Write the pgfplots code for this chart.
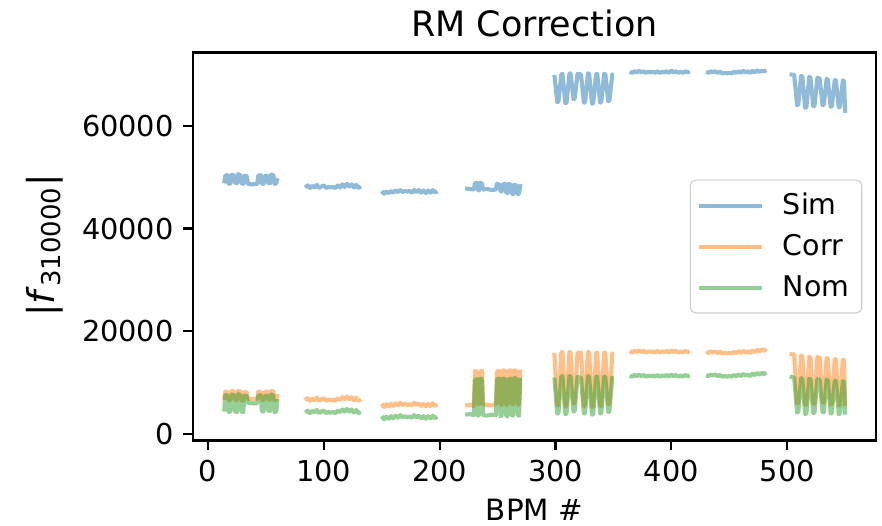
\documentclass[border=0pt]{standalone}
\usepackage{pgfplots}
\usepackage{pgfplotstable}
\pgfplotsset{compat=1.18}
\usepackage{fontspec}
\setmainfont{DejaVu Sans}
\definecolor{tabblue}{HTML}{1F77B4}
\definecolor{taborange}{HTML}{FF7F0E}
\definecolor{tabgreen}{HTML}{2CA02C}

\pgfplotstableread{
x sim corr nom
14 48800 6700 4400
15 50300 8300 7600
17 50400 8200 7500
18 48700 6600 4300
19.5 48800 6700 4500
20.5 50500 8400 7700
22.5 50300 8300 7600
23.5 48900 6700 4400
25 48800 6600 4300
26 50600 8400 7800
28 50400 8300 7600
29 48800 6700 4400
30.5 48700 6500 4300
31.5 50300 8200 7500
33.5 50200 8100 7400
34.5 48700 6900 6100
38 48600 6800 6000
42.5 48700 6900 6000
43.5 50300 8300 7500
45.5 50400 8200 7600
46.5 48800 6700 4500
48 48700 6600 4400
49 50200 8200 7400
51 50300 8300 7500
52 48900 6800 4600
53.5 48800 6700 4500
54.5 50500 8400 7700
56.5 50400 8300 7600
57.5 48700 6600 4300
59 48800 6700 4400
60 49800 7800 6800
61 nan nan nan
84 48000 6600 4200
86 48400 7000 4600
88 47900 6500 4100
90 48300 6900 4500
92 48000 6600 4300
94 48500 7100 4700
96 47900 6500 4100
98 48200 6800 4400
100 48400 7000 4600
102 47900 6500 4100
104 48100 6700 4300
106 48000 6600 4200
108 48100 6700 4300
110 47900 6500 4100
112 48400 7000 4600
114 48000 6700 4300
116 48600 7200 4800
118 48100 6800 4400
120 48700 7300 4900
122 48200 6800 4400
124 48600 7200 4800
126 48000 6600 4200
128 48500 7100 4700
130 47900 6500 4100
132 48200 6800 4300
133 nan nan nan
150 47300 5900 3500
152 46800 5300 2900
154 47200 5800 3400
156 46900 5400 3000
158 47300 5900 3500
160 47000 5500 3100
162 47400 6000 3600
164 47100 5600 3200
166 47500 6100 3700
168 47100 5700 3300
170 47300 5900 3500
172 47200 5700 3300
174 47300 5800 3400
176 47000 5600 3200
178 47500 6100 3700
180 47100 5700 3300
182 47500 6000 3600
184 47000 5500 3100
186 47400 5900 3500
188 46900 5400 3000
190 47400 5900 3500
192 47000 5500 3100
194 47500 6000 3600
196 47000 5500 3100
198 47300 5800 3400
199 nan nan nan
222 47800 5600 3800
226 47700 5700 3900
229.5 47600 5500 3700
230.5 48800 12300 10600
232 48900 12200 10700
233 47500 5900 3600
234 47400 5800 3700
235 48900 12200 10800
236.5 48800 12300 10700
237.5 47600 5800 3700
241 47700 5700 3600
245 47500 5600 3800
248.5 47600 5900 3700
249.5 48700 12200 10700
251.5 48600 12300 10800
252.5 47300 5800 3500
253.5 47200 5700 3600
254.5 48600 12400 10800
256.5 48700 12300 10700
257.5 47000 5700 3600
258.5 46900 5800 3500
259.5 48700 12300 10700
261.5 48500 12400 10800
262.5 46800 5900 3600
263.5 46700 5800 3700
264.5 48500 12400 10900
266.5 48400 12300 10800
267.5 46700 5800 3700
268.5 46800 5700 3600
269.5 48300 12200 10600
271 48200 12100 10500
272 nan nan nan
299 69900 15800 11000
301.5 64600 5600 4000
302.5 64700 5700 4100
305 70000 15900 11200
306 70100 16000 11300
308.5 64400 5400 3900
309.5 64500 5500 4000
312 70100 16000 11300
313 70200 15900 11200
315.5 65200 6000 4400
316.5 65300 6100 4500
319 70100 15800 11100
322 70000 15900 11000
324.5 64500 5500 4000
325.5 64600 5600 4100
328 70200 16000 11300
329 70100 15900 11200
331.5 64300 5300 3800
332.5 64400 5400 3900
335 70000 15800 11100
336 70100 15900 11200
338.5 64500 5500 4000
339.5 64600 5600 4100
342 70100 15900 11200
343 70000 15800 11100
345.5 64800 5800 4300
346.5 64900 5900 4400
349 70000 15700 11000
350 69900 15600 10900
351 nan nan nan
364 70500 16100 11400
366 70300 15900 11200
368 70600 16200 11500
370 70400 16000 11300
372 70700 16300 11600
374 70400 16000 11300
376 70600 16200 11500
378 70300 15900 11200
380 70500 16100 11400
382 70400 16000 11300
384 70500 16100 11400
386 70300 15900 11200
388 70600 16200 11500
390 70300 15900 11200
392 70500 16100 11400
394 70400 16000 11300
396 70600 16200 11500
398 70300 15900 11200
400 70700 16300 11600
402 70400 16000 11300
404 70600 16200 11500
406 70300 15900 11200
408 70500 16100 11400
410 70300 15900 11200
412 70600 16200 11500
414 70400 16000 11300
416 70500 16100 11400
417 nan nan nan
430 70500 16000 11500
432 70300 15800 11300
434 70600 16100 11600
436 70400 15900 11400
438 70600 16100 11600
440 70300 15800 11300
442 70500 16000 11500
444 70200 15700 11200
446 70300 15800 11300
448 70200 15700 11200
450 70300 15800 11300
452 70200 15700 11200
454 70500 16000 11500
456 70300 15800 11300
458 70600 16100 11600
460 70300 15800 11300
462 70700 16200 11700
464 70400 15900 11400
466 70600 16100 11600
468 70300 15800 11300
470 70700 16300 11800
472 70400 16000 11500
474 70800 16400 11900
476 70500 16100 11600
478 70700 16500 11900
480 70600 16200 11700
482 70800 16600 12000
483 nan nan nan
502 70000 15600 11200
506 69900 15500 11000
508.5 64000 6000 4200
509.5 64100 6100 4300
512 69700 15300 10900
513 69600 15200 10800
515.5 63500 5700 3900
516.5 63600 5800 4000
519 69500 15100 10800
520 69400 15000 10700
522.5 63800 5900 4100
523.5 63900 6000 4200
526 69300 15000 10700
528 69200 14900 10600
530.5 64000 6200 4300
531.5 64100 6100 4200
534 69100 14800 10600
535 69000 14700 10500
537.5 63700 5800 4000
538.5 63800 5900 4100
541 68900 14600 10400
542 68900 14600 10400
544.5 63600 5600 3900
545.5 63700 5700 4000
548 68800 14500 10300
549 68700 14400 10200
550 62500 5500 3800
}\bpmdata

\begin{document}
\begin{tikzpicture}
\useasboundingbox (-70.4pt,-31.1pt) rectangle (251.5pt,160.8pt);
\begin{axis}[
  scale only axis,
  width=249.3pt, height=141.6pt,
  at={(0,0)}, anchor=south west,
  xmin=-13, xmax=576.6,
  ymin=-1245, ymax=74240,
  xtick={0,100,200,300,400,500},
  ytick={0,20000,40000,60000},
  scaled ticks=false,
  /pgf/number format/1000 sep={},
  /pgf/number format/assume math mode=true,
  tick pos=left,
  tick align=outside,
  major tick length=3.5pt,
  every tick/.style={black, line width=0.8pt},
  axis line style={line width=0.8pt},
  tick label style={font=\fontsize{10.5}{12}\selectfont},
  unbounded coords=jump,
  every axis title shift=0pt,
  title={RM Correction},
  title style={at={(axis description cs:0.5,1.076)}, anchor=center, font=\fontsize{12.75}{15}\selectfont},
  xlabel={BPM \#},
  xlabel style={at={(axis description cs:0.5,-0.179)}, anchor=center, font=\fontsize{10.7}{12}\selectfont},
  ylabel={|\textit{f}\textsubscript{310000}|},
  ylabel style={at={(axis description cs:-0.217,0.503)}, anchor=center, font=\fontsize{13.5}{16}\selectfont},
  legend cell align=left,
  legend style={at={(0.98,0.5)}, anchor=east, draw=black!20, rounded corners=2pt,
    font=\fontsize{10.4}{12}\selectfont, inner xsep=2.5pt, inner ysep=2.6pt,
    row sep=1.8pt, column sep=4.8pt, fill=white, fill opacity=0.8, text opacity=1},
  legend image code/.code={\draw[#1] (0pt,0pt) -- (23pt,0pt);},
]
\addplot[tabblue, draw opacity=0.5, line width=1.5pt, line join=round] table[x=x, y=sim] {\bpmdata};
\addlegendentry{Sim}
\addplot[taborange, draw opacity=0.5, line width=1.5pt, line join=round] table[x=x, y=corr] {\bpmdata};
\addlegendentry{Corr}
\addplot[tabgreen, draw opacity=0.5, line width=1.5pt, line join=round] table[x=x, y=nom] {\bpmdata};
\addlegendentry{Nom}
\end{axis}
\end{tikzpicture}
\end{document}
